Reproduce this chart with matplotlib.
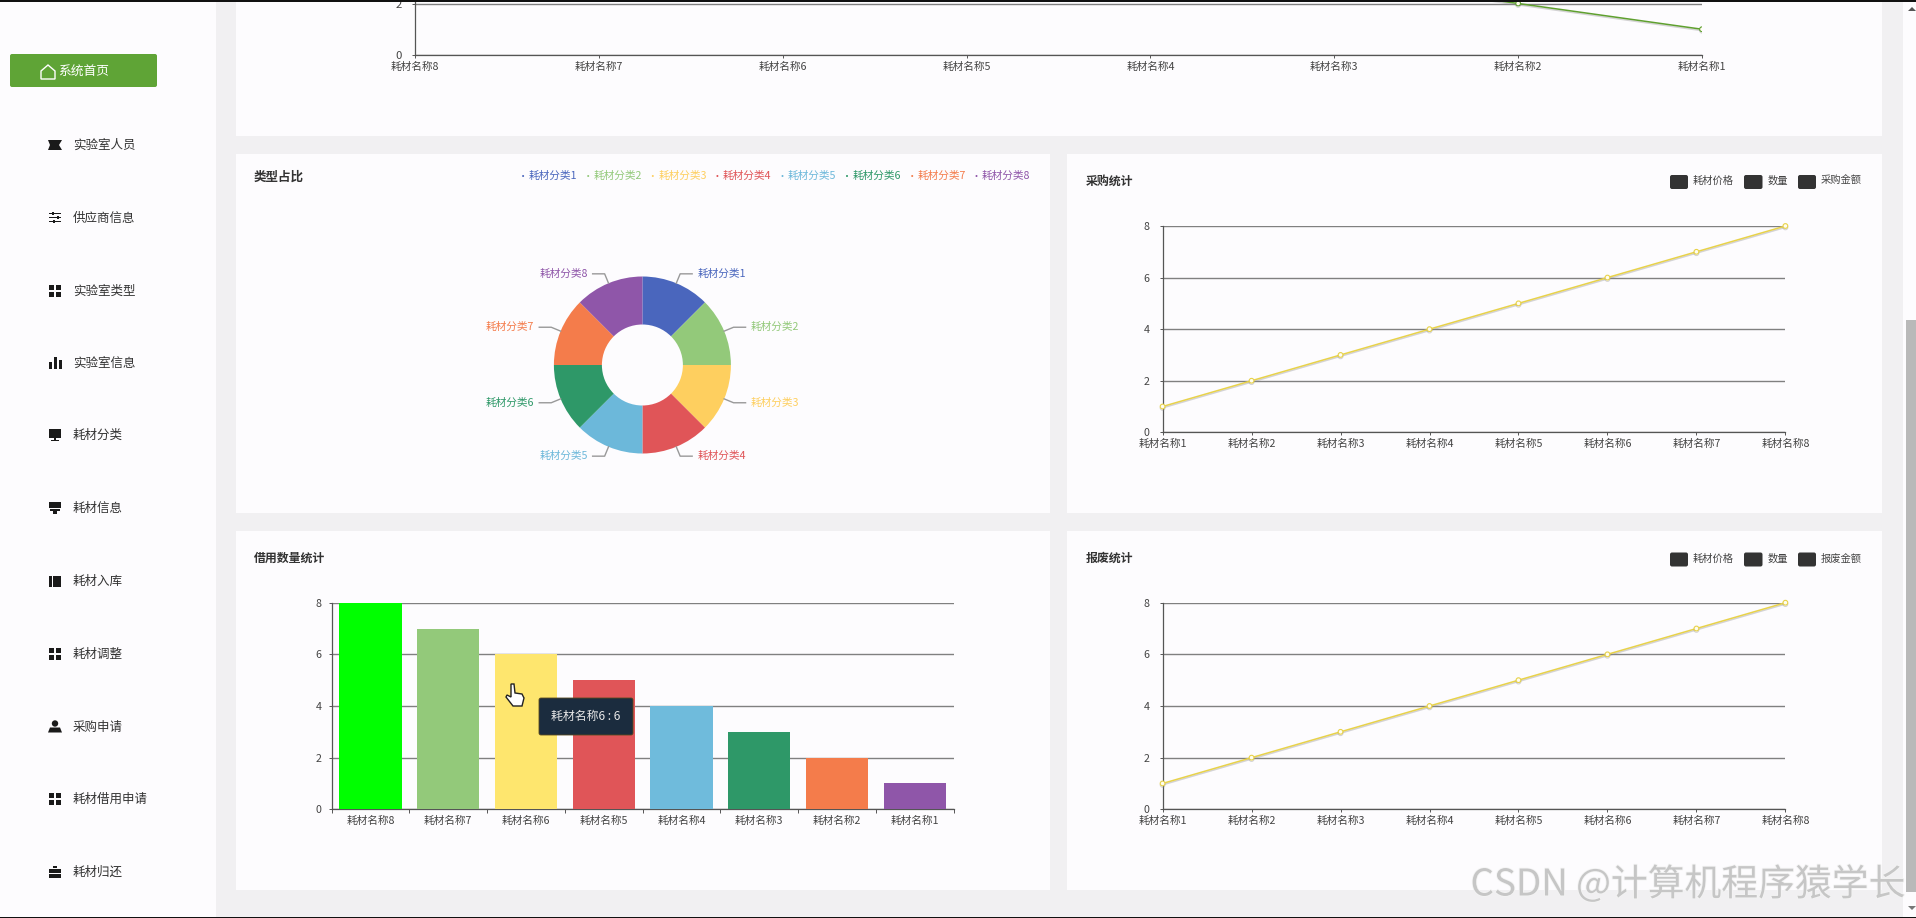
"""Lab consumables dashboard screenshot: sidebar, cropped top chart, pie, two line charts, bar chart."""
import numpy as np
import matplotlib
matplotlib.use("Agg")
import matplotlib.pyplot as plt
import matplotlib.patheffects as pe
from matplotlib.patches import Rectangle, FancyBboxPatch, Polygon, Circle

plt.rcParams["font.family"] = ["Noto Sans CJK SC", "DejaVu Sans"]

W, H = 1916, 918

MENU = ["实验室人员", "供应商信息", "实验室类型", "实验室信息", "耗材分类", "耗材信息",
        "耗材入库", "耗材调整", "采购申请", "耗材借用申请", "耗材归还"]
ICONS = ["ticket", "sliders", "grid", "bars", "monitor", "stamp", "book", "grid", "user", "grid", "case"]
NAMES_UP = ["耗材名称1", "耗材名称2", "耗材名称3", "耗材名称4", "耗材名称5", "耗材名称6", "耗材名称7", "耗材名称8"]
NAMES_DOWN = ["耗材名称8", "耗材名称7", "耗材名称6", "耗材名称5", "耗材名称4", "耗材名称3", "耗材名称2", "耗材名称1"]
VALUES_UP = [1, 2, 3, 4, 5, 6, 7, 8]
VALUES_DOWN = [8, 7, 6, 5, 4, 3, 2, 1]
PIE_NAMES = ["耗材分类1", "耗材分类2", "耗材分类3", "耗材分类4", "耗材分类5", "耗材分类6", "耗材分类7", "耗材分类8"]
PIE_VALUES = [1, 1, 1, 1, 1, 1, 1, 1]
PIE_COLORS = ["#4a66bd", "#93c97a", "#fecf5f", "#e05558", "#6cb8da", "#2e9868", "#f47c4b", "#8f56a9"]
BAR_COLORS = ["#00ff00", "#93c97a", "#fee66e", "#e05558", "#6fbbdc", "#2e9868", "#f47c4b", "#8f56a9"]

CARD = "#fdfcfe"
GRAY = "#f1f0f2"
TXT = "#444444"
FS = 7.7


def px_axes(x0, y0, x1, y1, zorder=2):
    ax = fig.add_axes([x0 / W, 1 - y1 / H, (x1 - x0) / W, (y1 - y0) / H], zorder=zorder)
    ax.patch.set_alpha(0)
    return ax


def style_axis(ax, pad):
    for s in ("top", "right"):
        ax.spines[s].set_visible(False)
    for s in ("left", "bottom"):
        ax.spines[s].set_color("#555555")
        ax.spines[s].set_linewidth(0.9)
    ax.set_yticks([0, 2, 4, 6, 8])
    ax.grid(axis="y", color="#808080", lw=1.0)
    ax.set_axisbelow(True)
    ax.tick_params(axis="both", length=2.4, width=0.7, color="#555555", labelcolor=TXT, labelsize=FS)
    ax.tick_params(axis="y", pad=pad)
    ax.tick_params(axis="x", pad=2.5)


def line_chart(x0, y0, x1, y1, names, values, color, ylim=(0, 8), pad=7, clip=False):
    ax = px_axes(x0, y0, x1, y1)
    xs = np.arange(len(names))
    ax.plot(xs, values, "-o", color=color, lw=1.1, ms=3.4, mfc="#fffdf0", mew=0.8, zorder=3, clip_on=clip,
            path_effects=[pe.SimpleLineShadow(offset=(0, -1), shadow_color="#888888", alpha=0.35), pe.Normal()])
    ax.set_xticks(xs, names)
    style_axis(ax, pad)
    # set_yticks grows the view, so the limits come after it
    ax.set_xlim(0, len(names) - 1)
    ax.set_ylim(*ylim)
    return ax


def line_legend(y, last):
    boxes = [(1670, 1688, 1693, "耗材价格"), (1744, 1762.5, 1767.4, "数量"), (1798, 1816, 1821, last)]
    for a, b, tx, s in boxes:
        bg.add_patch(FancyBboxPatch((a + 2, y - 5), b - a - 4, 10, boxstyle="round,pad=2", fc="#333333", ec="none"))
        bg.text(tx, y - 1, s, fontsize=7.4, color=TXT, va="center")


def icon(kind, x, y):
    # x, y = centre of a 12px glyph, overlay axes in pixels
    c = "#1a1a1a"

    def r(a, b, w, h):
        bg.add_patch(Rectangle((x + a, y + b), w, h, fc=c, ec="none"))

    if kind == "grid":
        for a in (-6, 1):
            for b in (-6, 1):
                r(a, b, 5, 5)
    elif kind == "ticket":
        bg.add_patch(Polygon([(x - 7, y - 5), (x + 7, y - 5), (x + 4, y), (x + 7, y + 5), (x - 7, y + 5), (x - 5, y)],
                             fc=c, ec="none"))
    elif kind == "sliders":
        for b in (-5, -1, 3):
            r(-6, b, 12, 1.2)
        r(-3, -6, 2, 3)
        r(2, -2, 2, 3)
        r(-2, 2, 2, 3)
    elif kind == "bars":
        r(-6, -1, 3, 7)
        r(-1, -6, 3, 12)
        r(4, -3, 3, 9)
    elif kind == "monitor":
        r(-6, -6, 12, 9)
        r(-1, 3, 2, 2)
        r(-4, 5, 8, 1)
    elif kind == "stamp":
        r(-6, -6, 12, 6)
        r(-5, 1, 10, 2)
        r(-2, 3, 4, 3)
    elif kind == "book":
        r(-6, -5, 3, 11)
        r(-2, -5, 8, 11)
    elif kind == "user":
        bg.add_patch(Circle((x, y - 3), 3.2, fc=c, ec="none"))
        bg.add_patch(Polygon([(x - 7, y + 6), (x - 5, y + 1), (x + 5, y + 1), (x + 7, y + 6)], fc=c, ec="none"))
    elif kind == "case":
        r(-6, -3, 12, 4)
        r(-6, 2, 12, 4)
        r(-2, -6, 4, 2)


fig = plt.figure(figsize=(W / 100, H / 100), dpi=100, facecolor=GRAY)

bg = fig.add_axes([0, 0, 1, 1], zorder=0)
bg.set_xlim(0, W)
bg.set_ylim(H, 0)
bg.axis("off")

# page blocks
bg.add_patch(Rectangle((0, 0), 216, H, fc=CARD, ec="none"))
bg.add_patch(Rectangle((1903, 0), 13, H, fc=CARD, ec="none"))
bg.add_patch(Rectangle((1906, 320), 10, 572, fc="#b9b9b9", ec="none"))
bg.add_patch(Polygon([(1908, 11), (1916, 11), (1912, 7)], fc="#555555", ec="none"))
bg.add_patch(Polygon([(1908, 906), (1916, 906), (1912, 910)], fc="#777777", ec="none"))
for box in [(236, 0, 1882, 136), (236, 154, 1050, 513), (1067, 154, 1882, 513),
            (236, 531, 1050, 890), (1067, 531, 1882, 890)]:
    bg.add_patch(Rectangle(box[:2], box[2] - box[0], box[3] - box[1], fc=CARD, ec="none"))

# sidebar
bg.add_patch(FancyBboxPatch((12, 56), 143, 29, boxstyle="round,pad=2", fc="#5fa436", ec="none"))
bg.add_patch(Polygon([(41, 71), (48, 65), (55, 71), (55, 79), (41, 79)], fc="none", ec="white", lw=1))
bg.text(58, 72, "系统首页", fontsize=9.2, color="white", va="center")
MENU_Y = [145, 217.5, 290.5, 363, 435, 508, 581, 654, 726.5, 799, 872]
for label, kind, y in zip(MENU, ICONS, MENU_Y):
    icon(kind, 55, y)
    bg.text(73, y + 0.5, label, fontsize=9.0, color="#333333", va="center")

# cropped chart on top: only the last segment and the 2 gridline are in view
top_ax = line_chart(415, 0, 1702, 55, NAMES_DOWN, VALUES_DOWN, "#5fa02f", ylim=(0, 55 / 25.75), clip=True)
top_ax.tick_params(axis="y", labelsize=8.2)

# pie
cx, cy, R, r_in = 642.4, 365, 88.5, 40.5
span = 200 / R
pie_ax = px_axes(cx - 200, cy - 200, cx + 200, cy + 200)
pie_ax.pie(PIE_VALUES, colors=PIE_COLORS, startangle=90, counterclock=False, radius=1,
           wedgeprops=dict(width=1 - r_in / R, lw=0))
pie_ax.set_xlim(-span, span)
pie_ax.set_ylim(-span, span)
total = sum(PIE_VALUES)
cum = 0
for name, val, col in zip(PIE_NAMES, PIE_VALUES, PIE_COLORS):
    ang = 2 * np.pi * (cum + val / 2) / total
    cum += val
    sx, sy = np.sin(ang), np.cos(ang)
    ex, ey = 1.115 * sx, 1.115 * sy
    side = 1 if sx > 0 else -1
    hx = ex + side * 12 / R
    pie_ax.plot([sx, ex, hx], [sy, ey, ey], color="#999999", lw=1.0, zorder=1, solid_joinstyle="round")
    pie_ax.text(hx + side * 5 / R, ey, name, color=col, fontsize=FS, va="center",
                ha="left" if side > 0 else "right")

bg.text(254, 177, "类型占比", fontsize=9, fontweight="bold", color="#333333", va="center")
LEGEND_X = [528.6, 593.7, 658.3, 722.9, 788, 852.5, 917.7, 982]
for name, col, lx in zip(PIE_NAMES, PIE_COLORS, LEGEND_X):
    bg.add_patch(Circle((lx - 5.5, 176), 1, fc=col, ec="none"))
    bg.text(lx, 176, name, color=col, fontsize=FS, va="center")

# line charts
YELLOW = "#e8d24a"
line_chart(1162.6, 226, 1785.4, 432.3, NAMES_UP, VALUES_UP, YELLOW)
bg.text(1085.6, 181.5, "采购统计", fontsize=8.6, fontweight="bold", color="#333333", va="center")
line_legend(182, "采购金额")

line_chart(1162.6, 602.7, 1785.4, 809.3, NAMES_UP, VALUES_UP, YELLOW)
bg.text(1085.6, 558.5, "报废统计", fontsize=8.6, fontweight="bold", color="#333333", va="center")
line_legend(559.5, "报废金额")

# bars
bar_ax = px_axes(331.6, 602.7, 953.7, 809.3)
xs = np.arange(len(NAMES_DOWN))
bar_ax.bar(xs, VALUES_DOWN, width=0.8, color=BAR_COLORS, zorder=3)
style_axis(bar_ax, 5)
bar_ax.set_xticks(xs, NAMES_DOWN)
bar_ax.tick_params(axis="x", length=0, pad=5)
bar_ax.set_xticks(np.arange(-0.5, 8), minor=True)
bar_ax.tick_params(axis="x", which="minor", length=2.8, width=0.7, color="#555555")
bar_ax.set_xlim(-0.5, 7.5)
bar_ax.set_ylim(0, 8)
bg.text(254, 558.5, "借用数量统计", fontsize=8.6, fontweight="bold", color="#333333", va="center")

# tooltip, cursor, watermark and window edges go over the charts
fg = fig.add_axes([0, 0, 1, 1], zorder=10)
fg.set_xlim(0, W)
fg.set_ylim(H, 0)
fg.axis("off")
fg.add_patch(FancyBboxPatch((541, 700), 90, 33, boxstyle="round,pad=2", fc="#1b2c3e", ec="#5a4a1e", lw=0.6))
fg.text(586, 716.5, "耗材名称6 : 6", color="#e8e8e8", fontsize=8.6, ha="center", va="center")
fg.add_patch(Polygon([(511, 684), (514, 684), (515, 693), (522, 694), (524, 698), (522, 706), (513, 706),
                      (506, 697), (507, 695), (511, 697)], fc="white", ec="#222222", lw=1))
fg.text(1470.5, 885, "CSDN @计算机程序猿学长", color="#c6c6c6", fontsize=26.5, va="center",
        path_effects=[pe.withStroke(linewidth=1.2, foreground="#f4f4f4")])
fg.add_patch(Rectangle((0, 0), W, 1.5, fc="#111111", ec="none"))
fg.add_patch(Rectangle((0, 916.5), W, 1.5, fc="#111111", ec="none"))

fig.savefig("out.png", dpi=100, facecolor=fig.get_facecolor())
